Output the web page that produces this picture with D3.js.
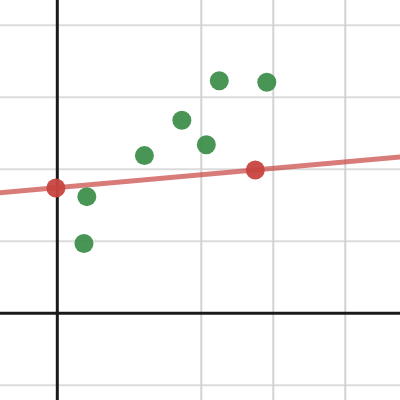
<!DOCTYPE html>
<html>
<head>
<meta charset="utf-8">
<script src="https://cdn.jsdelivr.net/npm/d3@7"></script>
<style>
  body { margin: 0; background: #fff; }
  svg { display: block; }
</style>
</head>
<body>
<div id="chart"></div>
<script>
// scatter points (green)
let ptsX = [0.41, 0.37, 1.21, 1.73, 2.07, 2.25, 2.91];
let ptsY = [1.62, 0.97, 2.19, 2.68, 2.34, 3.23, 3.21];

// the two red points the line goes through
let redX = [-0.02, 2.75];
let redY = [1.74, 1.99];

// line ends (extended across the view)
let lineX = [-0.8, 4.8];
let lineY = [1.675, 2.174];

// grid positions
let vGrid = [2, 3, 4];
let hGrid = [-1, 1, 2, 3, 4];

let width = 400, height = 400;

let x = d3.scaleLinear().domain([-0.796, 4.76]).range([0, width]);
let y = d3.scaleLinear().domain([-1.204, 4.351]).range([height, 0]);

let svg = d3.select("#chart")
  .append("svg")
    .attr("width", width)
    .attr("height", height);

// grid
svg.append("g")
  .selectAll("line")
  .data(hGrid)
  .enter()
  .append("line")
    .attr("x1", 0)
    .attr("x2", width)
    .attr("y1", d => y(d))
    .attr("y2", d => y(d))
    .attr("stroke", "#dcdcdc")
    .attr("stroke-width", 2);

svg.append("g")
  .selectAll("line")
  .data(vGrid)
  .enter()
  .append("line")
    .attr("x1", d => x(d))
    .attr("x2", d => x(d))
    .attr("y1", 0)
    .attr("y2", height)
    .attr("stroke", "#d2d2d2")
    .attr("stroke-width", 2);

// axes
svg.append("line")
  .attr("x1", 0).attr("x2", width)
  .attr("y1", y(0)).attr("y2", y(0))
  .attr("stroke", "#1a1a1a")
  .attr("stroke-width", 3);
svg.append("line")
  .attr("x1", x(0)).attr("x2", x(0))
  .attr("y1", 0).attr("y2", height)
  .attr("stroke", "#1a1a1a")
  .attr("stroke-width", 3);

// fitted line
let line = d3.line()
  .x(d => x(d[0]))
  .y(d => y(d[1]));

svg.append("path")
  .datum(d3.zip(lineX, lineY))
  .attr("d", line)
  .attr("fill", "none")
  .attr("stroke", "#c74440")
  .attr("stroke-opacity", 0.7)
  .attr("stroke-width", 5);

// green points
svg.append("g")
  .selectAll("circle")
  .data(d3.zip(ptsX, ptsY))
  .enter()
  .append("circle")
    .attr("cx", d => x(d[0]))
    .attr("cy", d => y(d[1]))
    .attr("r", 9.5)
    .attr("fill", "#388c46")
    .attr("fill-opacity", 0.92);

// red points
svg.append("g")
  .selectAll("circle")
  .data(d3.zip(redX, redY))
  .enter()
  .append("circle")
    .attr("cx", d => x(d[0]))
    .attr("cy", d => y(d[1]))
    .attr("r", 9.5)
    .attr("fill", "#c74440")
    .attr("fill-opacity", 0.95);
</script>
</body>
</html>
